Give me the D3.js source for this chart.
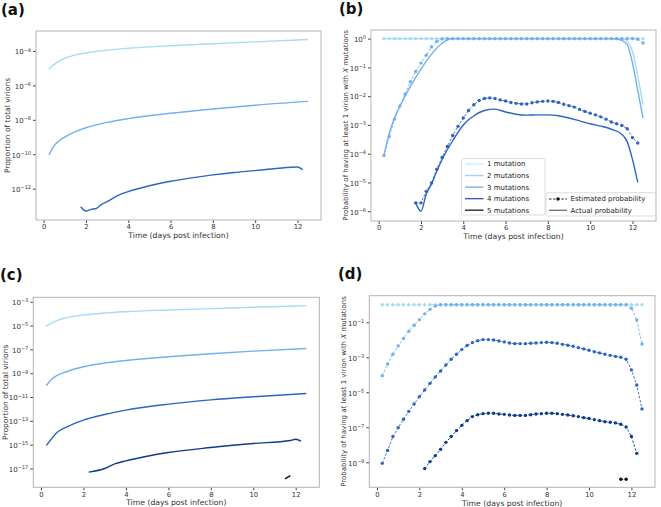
<!DOCTYPE html>
<html>
<head>
<meta charset="utf-8">
<script src="https://cdn.jsdelivr.net/npm/d3@7"></script>
<style>
  body { margin: 0; background: #fff; }
  svg { font-family: "DejaVu Sans", sans-serif; }
</style>
</head>
<body>
<svg id="fig" width="661" height="507"></svg>
<script>
// ---- data (values stored as log10 exponents) ----
const grid = [0.25, 0.5, 0.75, 1, 1.25, 1.5, 1.75, 2, 2.25, 2.5, 2.75, 3, 3.25, 3.5, 3.75, 4,
  4.25, 4.5, 4.75, 5, 5.25, 5.5, 5.75, 6, 6.25, 6.5, 6.75, 7, 7.25, 7.5, 7.75, 8,
  8.25, 8.5, 8.75, 9, 9.25, 9.5, 9.75, 10, 10.25, 10.5, 10.75, 11, 11.25, 11.5, 11.75, 12, 12.25, 12.5];

// (a) / (c) proportion of total virions
const propTime = [0.25, 0.5, 0.75, 1, 1.5, 2, 3, 4, 6, 8, 10, 12.5];
const propMut1 = [-5.05, -4.78, -4.58, -4.43, -4.23, -4.12, -3.95, -3.84, -3.7, -3.58, -3.47, -3.33];
const propMut2 = [-10.04, -9.5, -9.2, -9.0, -8.69, -8.46, -8.15, -7.93, -7.62, -7.37, -7.15, -6.93];
const aMut3Time = [1.75, 2, 2.25, 2.5, 2.75, 3, 3.5, 4, 5, 6, 7, 8, 9, 10, 11, 12, 12.25];
const aMut3 = [-13.05, -13.3, -13.2, -13.14, -12.9, -12.75, -12.4, -12.17, -11.83, -11.57, -11.37, -11.2, -11.06, -10.95, -10.83, -10.74, -10.9];
const cMut3 = [-15.07, -14.5, -13.98, -13.7, -13.28, -12.94, -12.47, -12.1, -11.6, -11.24, -10.98, -10.7];
const cMut4Time = [2.25, 3, 3.5, 4, 5, 6, 8, 10, 11.75, 12, 12.25];
const cMut4 = [-17.31, -17.0, -16.6, -16.36, -15.97, -15.66, -15.24, -14.9, -14.65, -14.54, -14.71];
const cMut5Time = [11.5, 11.75];
const cMut5 = [-17.87, -17.6];

// (b) probability, estimated (every grid point) and actual
const bEst1 = grid.map(() => 0);
const bEst2 = [-4.06, -3.4, -2.8, -2.34, -1.93, -1.5, -1.14, -0.85, -0.58, -0.28, -0.1, -0.01,
  0, 0, 0, 0, 0, 0, 0, 0, 0, 0, 0, 0, 0, 0, 0, 0, 0, 0, 0, 0, 0, 0, 0, 0,
  0, 0, 0, 0, 0, 0, 0, 0, 0, 0, 0, 0, -0.02, -0.15];
const bEst3 = [-5.71, -5.71, -5.31, -5.02, -4.54, -4.13, -3.75, -3.37, -3.05, -2.76, -2.5, -2.3, -2.15,
  -2.08, -2.06, -2.08, -2.13, -2.17, -2.22, -2.25, -2.27, -2.27, -2.23, -2.2, -2.18, -2.17,
  -2.18, -2.22, -2.28, -2.33, -2.38, -2.46, -2.53, -2.59, -2.65, -2.72, -2.8, -2.9, -2.96,
  -3.02, -3.13, -3.44, -3.63];
const bAct1Time = [0.25, 11.5, 11.75, 12, 12.25, 12.5];
const bAct1 = [0, 0, -0.08, -0.45, -1.3, -2.3];
const bAct2Time = [0.25, 0.5, 0.75, 1, 1.5, 2, 2.5, 3, 3.25, 3.5, 11, 11.25, 11.5, 11.75, 12, 12.25, 12.5];
const bAct2 = [-4.06, -3.3, -2.75, -2.36, -1.66, -1.06, -0.54, -0.16, -0.05, 0, 0, -0.02, -0.06, -0.2, -0.85, -1.8, -2.76];
const bAct3Time = [1.75, 2, 2.25, 2.5, 2.75, 3, 3.5, 4, 4.5, 5, 5.5, 6, 6.5, 7, 7.5, 8, 8.5, 9, 9.5, 10, 10.5, 11, 11.5, 11.75, 12, 12.25];
const bAct3 = [-5.71, -6.0, -5.4, -5.05, -4.6, -4.2, -3.55, -3.0, -2.68, -2.5, -2.45, -2.55, -2.63, -2.66, -2.65, -2.65, -2.68, -2.76, -2.86, -2.96, -3.04, -3.15, -3.33, -3.58, -4.2, -5.0];

// (d) estimated probability
const dEst1 = grid.map(() => 0);
const dEst2 = [-4.05, -3.38, -2.83, -2.35, -1.93, -1.51, -1.17, -0.85, -0.52, -0.26, -0.07,
  0, 0, 0, 0, 0, 0, 0, 0, 0, 0, 0, 0, 0, 0, 0, 0, 0, 0, 0, 0, 0, 0, 0, 0, 0,
  0, 0, 0, 0, 0, 0, 0, 0, 0, 0, 0, -0.2, -0.87, -2.24];
const dEst3 = [-9.06, -8.33, -7.53, -7.02, -6.54, -6.09, -5.67, -5.25, -4.87, -4.49, -4.12, -3.78,
  -3.44, -3.11, -2.83, -2.56, -2.33, -2.16, -2.05, -1.99, -1.99, -2.01, -2.07, -2.12, -2.18,
  -2.22, -2.22, -2.22, -2.2, -2.18, -2.16, -2.14, -2.16, -2.2, -2.26, -2.31, -2.37, -2.45,
  -2.52, -2.6, -2.68, -2.75, -2.83, -2.89, -2.95, -3.0, -3.11, -3.72, -4.58, -5.95];
const dEst4 = [-9.36, -8.96, -8.62, -8.26, -7.86, -7.53, -7.19, -6.89, -6.62, -6.39, -6.28, -6.22,
  -6.2, -6.2, -6.24, -6.26, -6.3, -6.32, -6.32, -6.32, -6.28, -6.24, -6.22, -6.2, -6.2, -6.22,
  -6.26, -6.3, -6.34, -6.39, -6.45, -6.5, -6.56, -6.62, -6.68, -6.71, -6.75, -6.83, -6.98, -7.53, -8.49];
const dEst5Time = [11.5, 11.75];
const dEst5 = [-9.97, -9.97];

const xTicks = [0, 2, 4, 6, 8, 10, 12];
const legendMut = ["1 mutation", "2 mutations", "3 mutations", "4 mutations", "5 mutations"];
const legendKind = ["Estimated probability", "Actual probability"];

// colours
const c1 = "#a6dcf6", c2 = "#72b0ee", c3 = "#2e64c0", c4 = "#0e3a8c", c5 = "#111111";
const legendCol = ["#c9ecfb", "#a5d0f6", "#86ade6", "#2f5fb8", "#262a35"];

const pts = (t, e) => t.map((x, i) => ({ x: x, y: Math.pow(10, e[i]) }));

const svg = d3.select("#fig");

function panel(cfg) {
  const g = svg.append("g");
  const x = d3.scaleLinear().domain([-0.3625, 13.1125]).range([cfg.L, cfg.R]);
  const y = d3.scaleLog().domain([Math.pow(10, cfg.yBot), Math.pow(10, cfg.yTop)]).range([cfg.B, cfg.T]);

  // x axis
  const xa = g.append("g")
    .attr("transform", "translate(0," + cfg.B + ")")
    .call(d3.axisBottom(x).tickValues(xTicks).tickSize(3).tickPadding(1.5).tickFormat(d3.format("d")));
  xa.select(".domain").remove();
  xa.selectAll(".tick line").attr("stroke", "#444");
  xa.selectAll(".tick text").attr("font-size", "6.8px").attr("fill", "#333")
    .attr("font-family", "DejaVu Sans");

  // y axis
  const ya = g.append("g")
    .attr("transform", "translate(" + cfg.L + ",0)")
    .call(d3.axisLeft(y).tickValues(cfg.yTicks.map((e) => Math.pow(10, e))).tickSize(3).tickPadding(2));
  ya.select(".domain").remove();
  ya.selectAll(".tick line").attr("stroke", "#444");
  ya.selectAll(".tick text").each(function (d) {
    const t = d3.select(this);
    const ex = Math.round(Math.log10(d));
    t.text("10").attr("font-size", "7px").attr("fill", "#333").attr("font-family", "DejaVu Sans")
      .attr("dy", "0.4em");
    t.append("tspan").attr("dy", "-0.55em").attr("font-size", "5px")
      .text(ex < 0 ? "\u2212" + (-ex) : String(ex));
  });

  // frame
  g.append("rect")
    .attr("x", cfg.L).attr("y", cfg.T)
    .attr("width", cfg.R - cfg.L).attr("height", cfg.B - cfg.T)
    .attr("fill", "none").attr("stroke", "#b5b5b5").attr("stroke-width", 1);

  // labels
  g.append("text")
    .attr("x", (cfg.L + cfg.R) / 2).attr("y", cfg.xLabY)
    .attr("text-anchor", "middle").attr("font-size", "7.7px").attr("fill", "#333")
    .text("Time (days post infection)");
  g.append("text")
    .attr("transform", "translate(" + cfg.yLabX + "," + (cfg.T + cfg.B) / 2 + ") rotate(-90)")
    .attr("text-anchor", "middle").attr("dy", "0.35em")
    .attr("font-size", cfg.yLabSize).attr("fill", "#333")
    .text(cfg.yLabel);
  g.append("text")
    .attr("x", cfg.tagX).attr("y", cfg.tagY)
    .attr("font-size", "15px").attr("font-weight", "bold").attr("fill", "#111")
    .text(cfg.tag);

  const line = d3.line().x((d) => x(d.x)).y((d) => y(d.y)).curve(d3.curveMonotoneX);
  const lineLin = d3.line().x((d) => x(d.x)).y((d) => y(d.y));

  cfg.series.forEach((s) => {
    if (s.kind === "solid") {
      g.append("path").datum(s.pts)
        .attr("fill", "none").attr("stroke", s.color).attr("stroke-width", 1.4)
        .attr("d", line);
    } else {
      g.append("path").datum(s.pts)
        .attr("fill", "none").attr("stroke", s.color).attr("stroke-width", 0.9)
        .attr("stroke-dasharray", "2.5,1.6")
        .attr("d", lineLin);
      g.append("g").selectAll("circle").data(s.pts).join("circle")
        .attr("cx", (d) => x(d.x)).attr("cy", (d) => y(d.y)).attr("r", 1.7)
        .attr("fill", s.color);
    }
  });
  return g;
}

const probLabel = "Probability of having at least 1 virion with \u{1D44B} mutations";

panel({
  tag: "(a)", tagX: 1, tagY: 15,
  L: 36, R: 321, T: 31, B: 220, yTop: -2.84, yBot: -13.82,
  yTicks: [-4, -6, -8, -10, -12],
  xLabY: 238, yLabX: 7, yLabSize: "7.5px", yLabel: "Proportion of total virions",
  series: [
    { kind: "solid", color: c1, pts: pts(propTime, propMut1) },
    { kind: "solid", color: c2, pts: pts(propTime, propMut2) },
    { kind: "solid", color: c3, pts: pts(aMut3Time, aMut3) }
  ]
});

const pb = panel({
  tag: "(b)", tagX: 339, tagY: 14,
  L: 371, R: 656, T: 30, B: 221, yTop: 0.30, yBot: -6.34,
  yTicks: [0, -1, -2, -3, -4, -5, -6],
  xLabY: 239, yLabX: 346, yLabSize: "7px", yLabel: probLabel,
  series: [
    { kind: "est", color: c1, pts: pts(grid, bEst1) },
    { kind: "solid", color: c1, pts: pts(bAct1Time, bAct1) },
    { kind: "est", color: c2, pts: pts(grid, bEst2) },
    { kind: "solid", color: c2, pts: pts(bAct2Time, bAct2) },
    { kind: "est", color: c3, pts: pts(grid.slice(6, 49), bEst3) },
    { kind: "solid", color: c3, pts: pts(bAct3Time, bAct3) }
  ]
});

panel({
  tag: "(c)", tagX: 0, tagY: 280,
  L: 33.3, R: 319.3, T: 297.3, B: 487.3, yTop: -2.63, yBot: -18.58,
  yTicks: [-3, -5, -7, -9, -11, -13, -15, -17],
  xLabY: 505, yLabX: 5, yLabSize: "7.5px", yLabel: "Proportion of total virions",
  series: [
    { kind: "solid", color: c1, pts: pts(propTime, propMut1) },
    { kind: "solid", color: c2, pts: pts(propTime, propMut2) },
    { kind: "solid", color: c3, pts: pts(propTime, cMut3) },
    { kind: "solid", color: c4, pts: pts(cMut4Time, cMut4) },
    { kind: "solid", color: c5, pts: pts(cMut5Time, cMut5) }
  ]
});

panel({
  tag: "(d)", tagX: 338, tagY: 279,
  L: 369.3, R: 655, T: 295.7, B: 487.3, yTop: 0.52, yBot: -10.43,
  yTicks: [-1, -3, -5, -7, -9],
  xLabY: 505.5, yLabX: 344, yLabSize: "7px", yLabel: probLabel,
  series: [
    { kind: "est", color: c1, pts: pts(grid, dEst1) },
    { kind: "est", color: c2, pts: pts(grid, dEst2) },
    { kind: "est", color: c3, pts: pts(grid, dEst3) },
    { kind: "est", color: c4, pts: pts(grid.slice(8, 49), dEst4) },
    { kind: "est", color: c5, pts: pts(dEst5Time, dEst5) }
  ]
});

// legends in (b)
const lg1 = pb.append("g");
lg1.append("rect").attr("x", 461.5).attr("y", 158.5).attr("width", 83.5).attr("height", 56.5)
  .attr("rx", 2).attr("fill", "#fff").attr("fill-opacity", 0.8).attr("stroke", "#d4d4d4").attr("stroke-width", 0.8);
legendMut.forEach((name, i) => {
  const yy = 164 + i * 11.55;
  lg1.append("line").attr("x1", 465).attr("x2", 483.5).attr("y1", yy).attr("y2", yy)
    .attr("stroke", legendCol[i]).attr("stroke-width", 1.4);
  lg1.append("text").attr("x", 487).attr("y", yy).attr("dy", "0.35em")
    .attr("font-size", "7px").attr("fill", "#222").text(name);
});

const lg2 = pb.append("g");
lg2.append("rect").attr("x", 546).attr("y", 192.7).attr("width", 109.5).attr("height", 23.3)
  .attr("rx", 2).attr("fill", "#fff").attr("fill-opacity", 0.8).attr("stroke", "#d4d4d4").attr("stroke-width", 0.8);
legendKind.forEach((name, i) => {
  const yy = 199 + i * 11.3;
  if (i === 0) {
    lg2.append("line").attr("x1", 549).attr("x2", 567).attr("y1", yy).attr("y2", yy)
      .attr("stroke", "#111").attr("stroke-width", 0.9).attr("stroke-dasharray", "2.5,1.6");
    lg2.append("circle").attr("cx", 558).attr("cy", yy).attr("r", 1.7).attr("fill", "#111");
  } else {
    lg2.append("line").attr("x1", 549).attr("x2", 567).attr("y1", yy).attr("y2", yy)
      .attr("stroke", "#777").attr("stroke-width", 1.4);
  }
  lg2.append("text").attr("x", 570.5).attr("y", yy).attr("dy", "0.35em")
    .attr("font-size", "7px").attr("fill", "#222").text(name);
});
</script>
</body>
</html>
